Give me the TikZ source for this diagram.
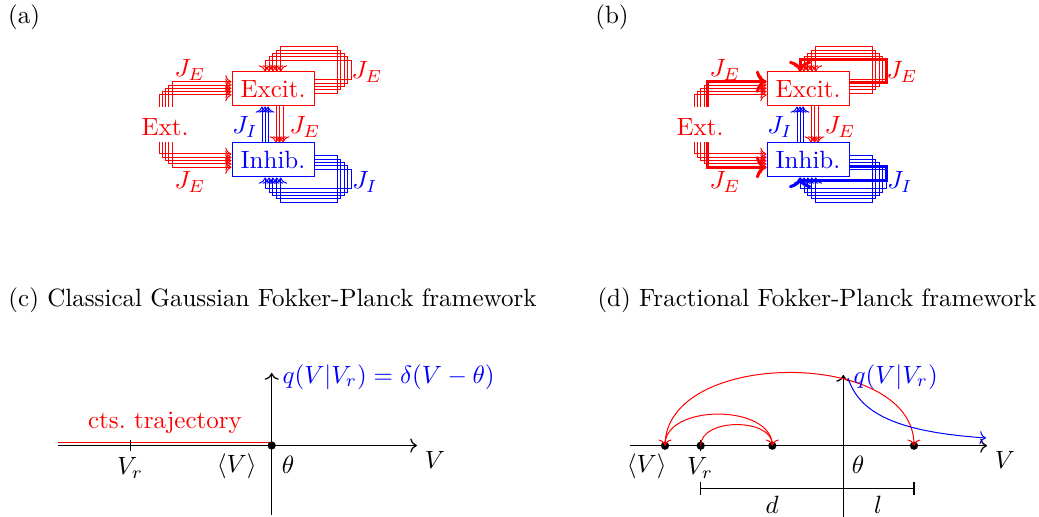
\documentclass[tikz,border=0pt]{standalone}
\usetikzlibrary{arrows.meta}
\begin{document}
\begin{tikzpicture}[x=0.4pt,y=-0.4pt,
  lbl/.style={inner sep=0pt},
  netbox/.style={draw,minimum width=32.8pt,minimum height=13.6pt,inner sep=0pt},
  rl/.style={red,line width=0.4pt,->},
  bl/.style={blue,line width=0.4pt,->},
  rs/.style={red,line width=1.2pt,->},
  bs/.style={blue,line width=1.2pt,->},
  ax/.style={->,line width=0.5pt},
  dot/.style={circle,fill=black,inner sep=0pt,minimum size=3.3pt},
  tick/.style={line width=0.5pt}]
\useasboundingbox (0,0) rectangle (1039,517);

\node[lbl] (la) at (24,17) {(a)};
\node[lbl] (lb) at (612,17) {(b)};

\foreach \p/\dx in {a/0,b/535}{
  \node[netbox,red] (exc\p) at (273+\dx,89) {Excit.};
  \node[netbox,blue] (inh\p) at (273+\dx,160) {Inhib.};
  \node[lbl,red] (ext\p) at (165+\dx,127) {Ext.};
  \foreach \k in {0,...,4}{
    \draw[rl] (159+\dx+3.33*\k,107) |- (exc\p.west |- 0,95-3.33*\k);
    \draw[rl] (159+\dx+3.33*\k,142) |- (inh\p.west |- 0,154+3.33*\k);
    \draw[rl] (exc\p.east |- 0,93.3-3.33*\k) -| (337+\dx+3.6*\k,46.7+3.33*\k) -| (exc\p.north -| 280.7+\dx-3.9*\k,0);
    \draw[bl] (inh\p.east |- 0,155.7+3.33*\k) -| (337+\dx+3.6*\k,202.3-3.33*\k) -| (inh\p.south -| 280.7+\dx-3.9*\k,0);
  }
  \foreach \x in {276,279.5,283}
    \draw[rl] (exc\p.south -| \x+\dx,0) -- (inh\p.north -| \x+\dx,0);
  \foreach \x in {262,265,268}
    \draw[bl] (inh\p.north -| \x+\dx,0) -- (exc\p.south -| \x+\dx,0);
  \node[lbl,red] (jea\p) at (190+\dx,70) {$J_E$};
  \node[lbl,red] (jeb\p) at (190+\dx,182) {$J_E$};
  \node[lbl,red] (jec\p) at (367+\dx,72) {$J_E$};
  \node[lbl,red] (jed\p) at (305+\dx,127) {$J_E$};
  \node[lbl,blue] (jia\p) at (245+\dx,127) {$J_I$};
  \node[lbl,blue] (jib\p) at (365+\dx,182) {$J_I$};
}
% strong connections in (b)
\draw[rs] (159+535+13.32,107) |- (excb.west |- 0,95-13.32);
\draw[rs] (159+535+13.32,142) |- (inhb.west |- 0,154+13.32);
\draw[rs] (excb.east |- 0,83) -| (337+535+14.4,60) -| (excb.north -| 280.7+535-15.6,0);
\draw[bs] (inhb.east |- 0,167) -| (337+535+14.4,181) -| (inhb.south -| 280.7+535-15.6,0);

\node[lbl,anchor=west] (lc) at (8,300) {(c) Classical Gaussian Fokker-Planck framework};
\node[lbl,anchor=west] (ld) at (597,300) {(d) Fractional Fokker-Planck framework};

% (c)
\coordinate (cL) at (58,445.5);
\coordinate (cR) at (417,445.5);
\coordinate (cB) at (271.7,515);
\coordinate (cT) at (271.7,373);
\coordinate (cRL) at (58,442.6);
\draw[ax] (cL) -- (cR);
\draw[ax] (cB) -- (cT);
\draw[red,line width=0.45pt] (cRL) -- (271.7,442.6);
\node[dot] (cth) at (271.7,445.5) {};
\draw[tick] (130.7,440) -- (130.7,451.5);
\node[lbl,red] (ctraj) at (165,423) {cts.\ trajectory};
\node[lbl] (cvr) at (130,468) {$V_r$};
\node[lbl] (cmean) at (236.7,466.7) {$\langle V\rangle$};
\node[lbl] (ctheta) at (288,465) {$\theta$};
\node[lbl] (cv) at (435,460) {$V$};
\node[lbl,blue,anchor=west] (cq) at (282,377) {$q(V|V_r)=\delta(V-\theta)$};

% (d)
\coordinate (dL) at (630,445.7);
\coordinate (dR) at (987,445.7);
\coordinate (dB) at (843.3,517);
\coordinate (dT) at (843.3,375);
\draw[ax] (dL) -- (dR);
\draw[ax] (dB) -- (dT);
\draw[tick] (700.7,440) -- (700.7,451);
\node[dot] (d1) at (665,445.7) {};
\node[dot] (d2) at (700.7,445.7) {};
\node[dot] (d3) at (772.3,445.7) {};
\node[dot] (d4) at (914,445.7) {};
\draw[red,->] (d2.center) .. controls +(0,-28) and +(0,-28) .. (d3.center);
\draw[red,->] (d3.center) .. controls +(0,-42) and +(0,-42) .. (d1.center);
\draw[red,->] (d1.center) .. controls +(0,-97.5) and +(0,-97.5) .. (d4.center);
\coordinate (qs) at (848,378);
\coordinate (qe) at (986,438);
\draw[blue,->] (qs) .. controls (860,415) and (900,432) .. (qe);
\node[lbl,blue,anchor=west] (dq) at (853,377) {$q(V|V_r)$};
\coordinate (m1) at (700.7,488.3);
\coordinate (m3) at (914,488.3);
\draw[tick] (m1) -- (m3);
\draw[tick] (700.7,481.7) -- (700.7,495);
\draw[tick] (843.3,481.7) -- (843.3,495);
\draw[tick] (914,481.7) -- (914,495);
\node[lbl] (dmean) at (646.7,466.7) {$\langle V\rangle$};
\node[lbl] (dvr) at (700,468) {$V_r$};
\node[lbl] (dtheta) at (858,465) {$\theta$};
\node[lbl] (dv) at (1005,460) {$V$};
\node[lbl] (dd) at (772,505) {$d$};
\node[lbl] (dl) at (878,505) {$l$};
\end{tikzpicture}
\end{document}
